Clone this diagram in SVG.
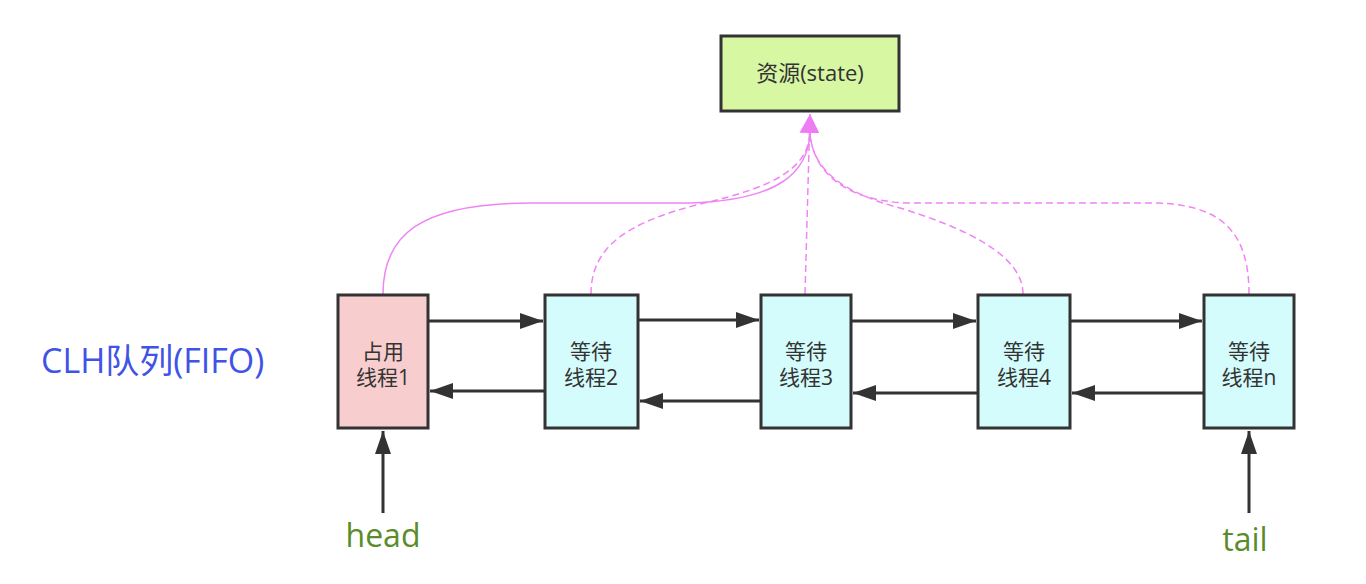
<svg xmlns="http://www.w3.org/2000/svg" width="1366" height="584" viewBox="0 0 1366 584">
<style>
.box{stroke:#333333;stroke-width:3}
.wait{fill:#d5fcfc}
.lbl{font-family:"Open Sans","Noto Sans CJK SC",sans-serif;font-size:21px;fill:#333333;text-anchor:middle}
.arr{stroke:#333333;stroke-width:3;fill:none;marker-end:url(#blk)}
.pk{stroke:#ef85f5;stroke-width:1.5;fill:none}
.dash{stroke-dasharray:7 4}
.grn{font-family:"Open Sans","Noto Sans CJK SC",sans-serif;font-size:32px;fill:#5b8c2a;text-anchor:middle}
</style>
<defs>
<marker id="blk" viewBox="0 0 23 16" refX="23" refY="8" markerWidth="23" markerHeight="16" markerUnits="userSpaceOnUse" orient="auto">
<path d="M0,0 L23,8 L0,16 z" fill="#333333"/>
</marker>
<marker id="pkm" viewBox="0 0 20 20" refX="19" refY="10" markerWidth="20" markerHeight="20" markerUnits="userSpaceOnUse" orient="auto">
<path d="M0,0 L19,10 L0,20 z" fill="#ee7cf2"/>
</marker>
</defs>
<rect width="1366" height="584" fill="#ffffff"/>

<g id="connectors">
<path class="pk" d="M383,294 C383,235 420,203 530,203 L690,203 C780,200 808,172 810,133"/>
<path class="pk dash" d="M591,294 C591,245 630,222 700,204 C780,186 808,166 810,133"/>
<path class="pk dash" d="M805,294 L810,114" marker-end="url(#pkm)"/>
<path class="pk dash" d="M1023,294 C1023,255 965,228 900,208 C840,192 812,168 810,133"/>
<path class="pk dash" d="M1249,294 C1249,232 1222,203 1150,203 L905,203 C845,200 813,172 810,133"/>
<line class="arr" x1="428" y1="321" x2="543" y2="321"/>
<line class="arr" x1="544" y1="391" x2="430" y2="391"/>
<line class="arr" x1="638" y1="320" x2="759" y2="320"/>
<line class="arr" x1="760" y1="401" x2="640" y2="401"/>
<line class="arr" x1="851" y1="321" x2="976" y2="321"/>
<line class="arr" x1="978" y1="393" x2="853" y2="393"/>
<line class="arr" x1="1070" y1="321" x2="1202" y2="321"/>
<line class="arr" x1="1204" y1="393" x2="1072" y2="393"/>
<line class="arr" x1="383" y1="513" x2="383" y2="431"/>
<line class="arr" x1="1249" y1="513" x2="1249" y2="431"/>
</g>

<g id="resource">
<rect class="box" x="721" y="36" width="178" height="75" fill="#d7f7a3"/>
<text class="lbl" x="810" y="81" style="font-size:22px">资源(state)</text>
</g>

<g id="thread1">
<rect class="box" x="338" y="295" width="90" height="133" fill="#f8cdcd"/>
<text class="lbl" x="383" y="359">占用</text>
<text class="lbl" x="383" y="385">线程1</text>
</g>

<g id="thread2">
<rect class="box wait" x="545" y="295" width="93" height="133"/>
<text class="lbl" x="591" y="359">等待</text>
<text class="lbl" x="591" y="385">线程2</text>
</g>

<g id="thread3">
<rect class="box wait" x="761" y="295" width="90" height="133"/>
<text class="lbl" x="806" y="359">等待</text>
<text class="lbl" x="806" y="385">线程3</text>
</g>

<g id="thread4">
<rect class="box wait" x="978" y="295" width="92" height="133"/>
<text class="lbl" x="1024" y="359">等待</text>
<text class="lbl" x="1024" y="385">线程4</text>
</g>

<g id="threadn">
<rect class="box wait" x="1204" y="295" width="90" height="133"/>
<text class="lbl" x="1249" y="359">等待</text>
<text class="lbl" x="1249" y="385">线程n</text>
</g>

<g id="queue-label">
<text x="41" y="373" style="font-family:'Open Sans','Noto Sans CJK SC',sans-serif;font-size:34px;fill:#4152e6">CLH队列(FIFO)</text>
</g>

<g id="head-label">
<text class="grn" x="383" y="547">head</text>
</g>

<g id="tail-label">
<text class="grn" x="1245" y="551">tail</text>
</g>
</svg>
